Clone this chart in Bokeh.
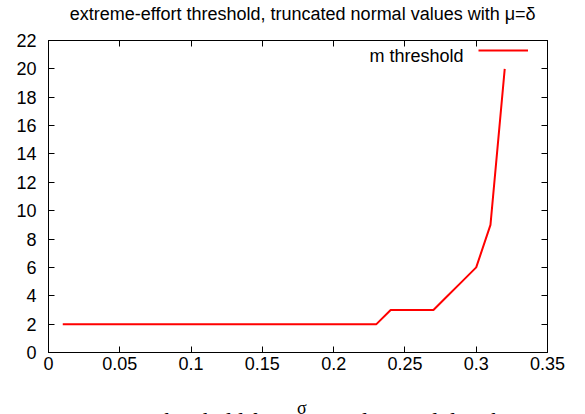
from bokeh.plotting import figure
from bokeh.models import (Range1d, LinearAxis, FixedTicker, Label, Legend, LegendItem)
from bokeh.layouts import column
from bokeh.embed import file_html
from bokeh.resources import INLINE

# data
sigma = [0.01, 0.02, 0.03, 0.04, 0.05, 0.06, 0.07, 0.08, 0.09, 0.10,
         0.11, 0.12, 0.13, 0.14, 0.15, 0.16, 0.17, 0.18, 0.19, 0.20,
         0.21, 0.22, 0.23, 0.24, 0.25, 0.26, 0.27, 0.28, 0.29, 0.30,
         0.31, 0.32]
m_threshold = [2, 2, 2, 2, 2, 2, 2, 2, 2, 2,
               2, 2, 2, 2, 2, 2, 2, 2, 2, 2,
               2, 2, 2, 3, 3, 3, 3, 4, 5, 6,
               9, 20]
x_ticks = [0, 0.05, 0.1, 0.15, 0.2, 0.25, 0.3, 0.35]
y_ticks = [0, 2, 4, 6, 8, 10, 12, 14, 16, 18, 20, 22]

title_text = "extreme-effort threshold, truncated normal values with \u03bc=\u03b4"
xlabel_text = "\u03c3"
legend_text = "m threshold"
caption_text = "Figure 8: m threshold for truncated normal distribution"

FONT = "Liberation Sans"
FS = "18px"
W = 585
TITLE_H = 30
MAIN_H = 360
BOTTOM_H = 24


def text_strip(height):
    f = figure(width=W, height=height, output_backend="svg", toolbar_location=None,
               x_range=Range1d(0, W), y_range=Range1d(0, height),
               x_axis_location=None, y_axis_location=None, min_border=0)
    f.grid.visible = False
    f.outline_line_color = None
    f.background_fill_color = "white"
    f.border_fill_color = "white"
    return f


# ---- title strip ----
top = text_strip(TITLE_H)
top.add_layout(Label(x=298, y=TITLE_H - 13, text=title_text,
                     text_align="center", text_baseline="middle",
                     text_font=FONT, text_font_size=FS, text_color="black"))

# ---- main plot ----
p = figure(width=W, height=MAIN_H, output_backend="svg", toolbar_location=None,
           x_range=Range1d(0, 0.35), y_range=Range1d(0, 22),
           x_axis_location=None, y_axis_location=None,
           min_border_left=48, min_border_right=38,
           min_border_top=40 - TITLE_H, min_border_bottom=TITLE_H + MAIN_H - 352)
p.grid.visible = False
p.outline_line_color = "black"
p.outline_line_width = 1
p.background_fill_color = "white"
p.border_fill_color = "white"


def make_axis(ticks, show_labels):
    ax = LinearAxis(ticker=FixedTicker(ticks=ticks))
    ax.major_tick_in = 6
    ax.major_tick_out = 0
    ax.minor_tick_in = 0
    ax.minor_tick_out = 0
    ax.axis_line_color = "black"
    ax.major_tick_line_color = "black"
    ax.major_label_text_font = FONT
    ax.major_label_text_color = "black"
    ax.major_label_text_font_size = FS
    if not show_labels:
        ax.major_label_overrides = {t: "" for t in ticks}
        ax.major_label_standoff = 0
    return ax


bx = make_axis(x_ticks, True)
bx.major_label_standoff = 4
bx.major_label_overrides = {0: "0", 0.1: "0.1", 0.2: "0.2", 0.3: "0.3"}
p.add_layout(bx, "below")
ly = make_axis(y_ticks, True)
ly.major_label_standoff = 12
p.add_layout(ly, "left")
p.add_layout(make_axis(x_ticks, False), "above")
p.add_layout(make_axis(y_ticks, False), "right")

r = p.line(sigma, m_threshold, line_color="red", line_width=2)

legend = Legend(items=[LegendItem(label="", renderers=[r])], location="top_right",
                margin=0, padding=4, glyph_width=50, glyph_height=20,
                label_standoff=19, label_width=0, label_text_font_size="1px",
                border_line_color=None, background_fill_alpha=0)
p.add_layout(legend)

# legend text (gnuplot style: text left of the sample line)
p.add_layout(Label(x=463 - 48, y=352 - 55, x_units="screen", y_units="screen",
                   text=legend_text, text_align="right", text_baseline="middle",
                   text_font=FONT, text_font_size=FS, text_color="black"))

# ---- bottom strip: x label and (cropped) caption ----
bot = text_strip(BOTTOM_H)
bot.add_layout(Label(x=297, y=414 - 407, text=xlabel_text,
                     text_align="center", text_baseline="alphabetic",
                     text_font="Liberation Serif", text_font_size=FS, text_color="black"))
bot.add_layout(Label(x=-4, y=414 - 421, text=caption_text,
                     text_align="left", text_baseline="alphabetic",
                     text_font="Liberation Serif", text_font_size="23px", text_color="black"))

layout = column(top, p, bot, spacing=0)
open("out.html", "w").write(file_html(layout, INLINE))
